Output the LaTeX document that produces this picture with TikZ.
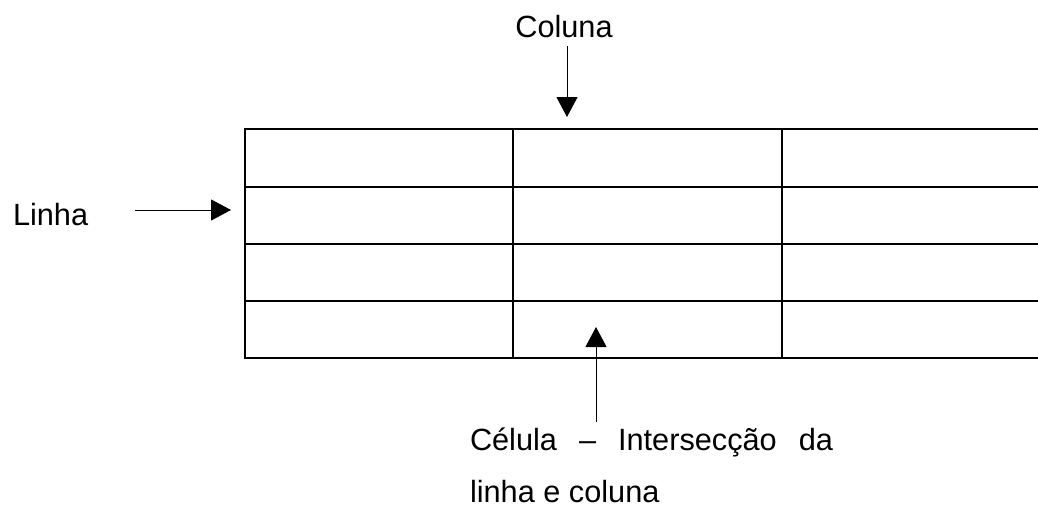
\documentclass[tikz,border=0pt]{standalone}
\usepackage{fontspec}
\setmainfont{Liberation Sans}
\usetikzlibrary{arrows.meta}
\begin{document}
\begin{tikzpicture}[x=1pt,y=-1pt,
  gridline/.style={line width=1.7pt},
  pointer/.style={line width=1pt,-{Triangle[length=20pt,width=21pt]}},
  label/.style={font=\fontsize{30.7}{36}\selectfont,inner sep=0pt,outer sep=0pt}]
\useasboundingbox (0,0) rectangle (1038,509);
% table
\draw[gridline] (1038,129) -- (244.7,129) -- (244.7,358) -- (1038,358);
\foreach \y in {187,244,301} \draw[gridline] (244.7,\y) -- (1038,\y);
\foreach \x in {513,782} \draw[gridline] (\x,129) -- (\x,358);
% labels
\node[label,anchor=base] (coluna) at (564,37) {Coluna};
\node[label,anchor=base west] (linha) at (13,225) {Linha};
\node[label,anchor=base west] (cel1) at (470,450) {\makebox[363pt][s]{Célula – Intersecção da}};
\node[label,anchor=base west] (cel2) at (470,502) {linha e coluna};
% arrow ends
\coordinate (colS) at (567,46);
\coordinate (colT) at (567,117);
\coordinate (linS) at (135,210);
\coordinate (linT) at (231,210);
\coordinate (celS) at (596,422);
\coordinate (celT) at (596,327);
\draw[pointer] (colS) -- (colT);
\draw[pointer] (linS) -- (linT);
\draw[pointer] (celS) -- (celT);
\end{tikzpicture}
\end{document}
